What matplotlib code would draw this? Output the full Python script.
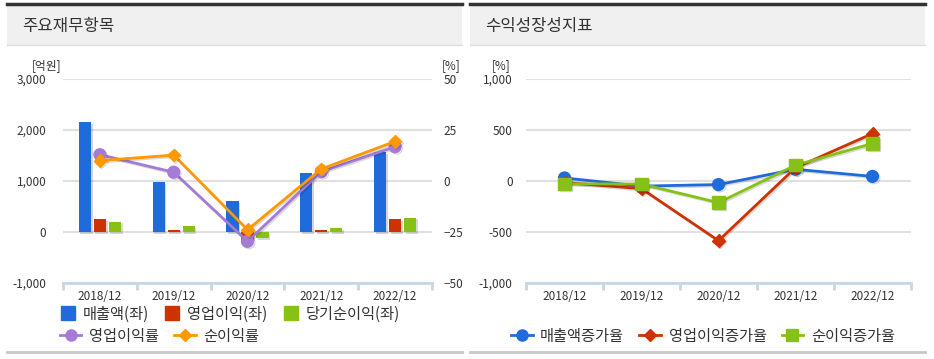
import numpy as np
import matplotlib
matplotlib.use("Agg")
import matplotlib.pyplot as plt
import matplotlib.patheffects as pe
from matplotlib.lines import Line2D
from matplotlib.patches import Rectangle

plt.rcParams["font.family"] = ["Noto Sans CJK KR", "DejaVu Sans"]

# data
years = ["2018/12", "2019/12", "2020/12", "2021/12", "2022/12"]
sales = [2150, 975, 600, 1160, 1560]
op_income = [250, 45, -150, 45, 255]
net_income = [200, 120, -120, 70, 280]
op_margin = [12.9, 4.3, -29.6, 4.6, 16.8]
net_margin = [10.0, 12.7, -23.9, 5.9, 19.4]

sales_growth = [30, -50, -35, 115, 45]
op_growth = [-15, -75, -585, 130, 465]
net_growth = [-28, -30, -212, 155, 368]

BLUE = "#1f6bdc"
RED = "#cc3300"
GREEN = "#88c116"
PURPLE = "#a67bd6"
ORANGE = "#ff9900"
TXT = "#333333"
GRID = "#e0e0e0"
AXC = "#c8d6e6"

W, H = 934, 359
fig = plt.figure(figsize=(W / 100, H / 100), dpi=100)


def fx(px):
    return px / W


def fy(py):
    return 1 - py / H


shadow_line = [pe.SimpleLineShadow(offset=(1, -1), alpha=0.15), pe.Normal()]
shadow_bar = [pe.SimplePatchShadow(offset=(1.2, -1.2), alpha=0.18), pe.Normal()]

# panel headers
for x0, x1, title in [(7, 462, "주요재무항목"), (470, 925, "수익성장성지표")]:
    fig.add_artist(Rectangle((fx(x0), fy(45)), fx(x1 - x0), (45 - 4) / H,
                             transform=fig.transFigure, facecolor="#f0f0f0",
                             edgecolor="none"))
    fig.add_artist(Line2D([fx(x0), fx(x1)], [fy(3.5), fy(3.5)], color="#333333", lw=2.5))
    fig.add_artist(Line2D([fx(x0), fx(x1)], [fy(45), fy(45)], color="#dddddd", lw=1))
    fig.add_artist(Line2D([fx(x0), fx(x1)], [fy(352), fy(352)], color="#c8c8c8", lw=2))
    fig.text(fx(x0 + 15), fy(27), title, fontsize=12, color=TXT, va="center", ha="left")


def style_axis(ax):
    ax.set_xlim(-0.5, 4.5)
    for s in ["top", "left", "right"]:
        ax.spines[s].set_visible(False)
    ax.spines["bottom"].set_color(AXC)
    ax.spines["bottom"].set_linewidth(2)
    ax.grid(axis="y", color=GRID, lw=1.5)
    ax.set_axisbelow(True)
    ax.set_xticks(range(len(years)))
    ax.set_xticklabels(years, fontsize=8.5, color=TXT)
    ax.set_xticks(np.arange(-0.5, len(years), 1), minor=True)
    ax.tick_params(axis="x", which="major", length=0, pad=5)
    ax.tick_params(axis="x", which="minor", length=5, width=2, color=AXC)
    ax.tick_params(axis="y", length=0, labelsize=8.5, labelcolor=TXT)


# left chart
ax1 = fig.add_axes([fx(63), fy(283), fx(432 - 63), (283 - 79) / H])
x = np.arange(len(years))
bw = 0.165
off = 0.203
ax1.bar(x - off, sales, bw, color=BLUE, path_effects=shadow_bar, zorder=2)
ax1.bar(x, op_income, bw, color=RED, path_effects=shadow_bar, zorder=2)
ax1.bar(x + off, net_income, bw, color=GREEN, path_effects=shadow_bar, zorder=2)
style_axis(ax1)
ax1.set_ylim(-1000, 3000)
ax1.set_yticks([-1000, 0, 1000, 2000, 3000])
ax1.set_yticklabels(["-1,000", "0", "1,000", "2,000", "3,000"])
ax1.tick_params(axis="y", pad=12)

ax1r = ax1.twinx()
ax1r.set_ylim(-50, 50)
ax1r.set_yticks([-50, -25, 0, 25, 50])
ax1r.tick_params(axis="y", length=0, labelsize=8.5, labelcolor=TXT, pad=8.5)
for s in ["top", "left", "right", "bottom"]:
    ax1r.spines[s].set_visible(False)
ax1r.plot(x, op_margin, color=PURPLE, lw=2, marker="o", ms=8.5, path_effects=shadow_line, zorder=3)
ax1r.plot(x, net_margin, color=ORANGE, lw=2, marker="D", ms=6.5, path_effects=shadow_line, zorder=4)

fig.text(fx(47), fy(66), "[억원]", fontsize=8.5, color=TXT, ha="center", va="center")
fig.text(fx(451), fy(66), "[%]", fontsize=8.5, color=TXT, ha="center", va="center")

h_sales = Line2D([], [], color=BLUE, marker="s", ms=10.5, ls="none")
h_op = Line2D([], [], color=RED, marker="s", ms=10.5, ls="none")
h_net = Line2D([], [], color=GREEN, marker="s", ms=10.5, ls="none")
h_opm = Line2D([], [], color=PURPLE, marker="o", ms=8, lw=2)
h_netm = Line2D([], [], color=ORANGE, marker="D", ms=6, lw=2)
leg_kw = dict(frameon=False, fontsize=11, handletextpad=0.5, columnspacing=1.0,
              borderaxespad=0, borderpad=0, labelcolor=TXT)
fig.legend([h_sales, h_op, h_net], ["매출액(좌)", "영업이익(좌)", "당기순이익(좌)"],
           loc="center left", bbox_to_anchor=(fx(60), fy(314)), ncol=3,
           handlelength=1.0, **leg_kw)
fig.legend([h_opm, h_netm], ["영업이익률", "순이익률"],
           loc="center left", bbox_to_anchor=(fx(60), fy(336)), ncol=2,
           handlelength=1.4, **leg_kw)

# right chart
ax2 = fig.add_axes([fx(526), fy(283), fx(911 - 526), (283 - 79) / H])
style_axis(ax2)
ax2.plot(x, sales_growth, color=BLUE, lw=2, marker="o", ms=8.5, path_effects=shadow_line, zorder=3)
ax2.plot(x, op_growth, color=RED, lw=2, marker="D", ms=6.5, path_effects=shadow_line, zorder=3)
ax2.plot(x, net_growth, color=GREEN, lw=2, marker="s", ms=9, path_effects=shadow_line, zorder=3)
ax2.set_ylim(-1000, 1000)
ax2.set_yticks([-1000, -500, 0, 500, 1000])
ax2.set_yticklabels(["-1,000", "-500", "0", "500", "1,000"])
ax2.tick_params(axis="y", pad=9.5)
fig.text(fx(501), fy(66), "[%]", fontsize=8.5, color=TXT, ha="center", va="center")

h_sg = Line2D([], [], color=BLUE, marker="o", ms=8, lw=2)
h_og = Line2D([], [], color=RED, marker="D", ms=6, lw=2)
h_ng = Line2D([], [], color=GREEN, marker="s", ms=8, lw=2)
fig.legend([h_sg, h_og, h_ng], ["매출액증가율", "영업이익증가율", "순이익증가율"],
           loc="center", bbox_to_anchor=(fx(703), fy(336)), ncol=3,
           handlelength=1.4, **leg_kw)

fig.savefig("out.png", dpi=100, facecolor="white")
